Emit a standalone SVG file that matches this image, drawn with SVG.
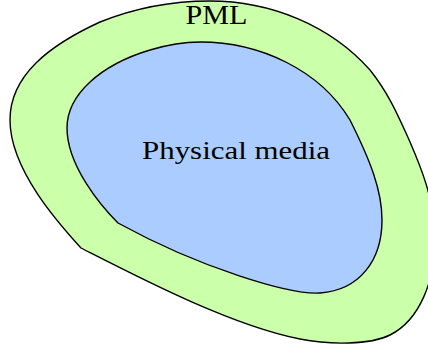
<svg xmlns="http://www.w3.org/2000/svg" width="428" height="352" viewBox="0 0 428 352">
<style>
.reg{stroke:#000;stroke-width:1.4;stroke-linejoin:round}
.lbl{font-family:"Liberation Serif","DejaVu Serif",serif;fill:#000;text-anchor:middle}
</style>
<rect width="428" height="352" fill="#fff"/>
<g id="pml">
<path class="reg" fill="#ccffaa" d="M 81 248 C 60 225, 10 170, 10 120 C 10 75, 50 45, 100 22 C 140 6, 180 1, 210 1 C 270 1, 330 25, 370 70 C 390 95, 400 120, 410 142 C 420 165, 435 200, 435 240 C 435 280, 420 320, 390 335 C 370 345, 330 345, 300 339 C 230 325, 140 278, 81 248 Z"/>
<text class="lbl" x="216.5" y="24" font-size="27" textLength="62" lengthAdjust="spacingAndGlyphs">PML</text>
</g>
<g id="media">
<path class="reg" fill="#aaccff" d="M 118 223 C 100 205, 67 165, 67 128 C 67 95, 100 65, 150 50 C 170 44, 185 42, 200 42 C 260 42, 320 70, 350 120 C 370 160, 382 190, 382 220 C 382 260, 360 290, 320 293 C 290 295, 200 268, 118 223 Z"/>
<text class="lbl" x="236" y="159" font-size="26" textLength="188" lengthAdjust="spacingAndGlyphs">Physical media</text>
</g>
<g id="connectors"/>
</svg>
